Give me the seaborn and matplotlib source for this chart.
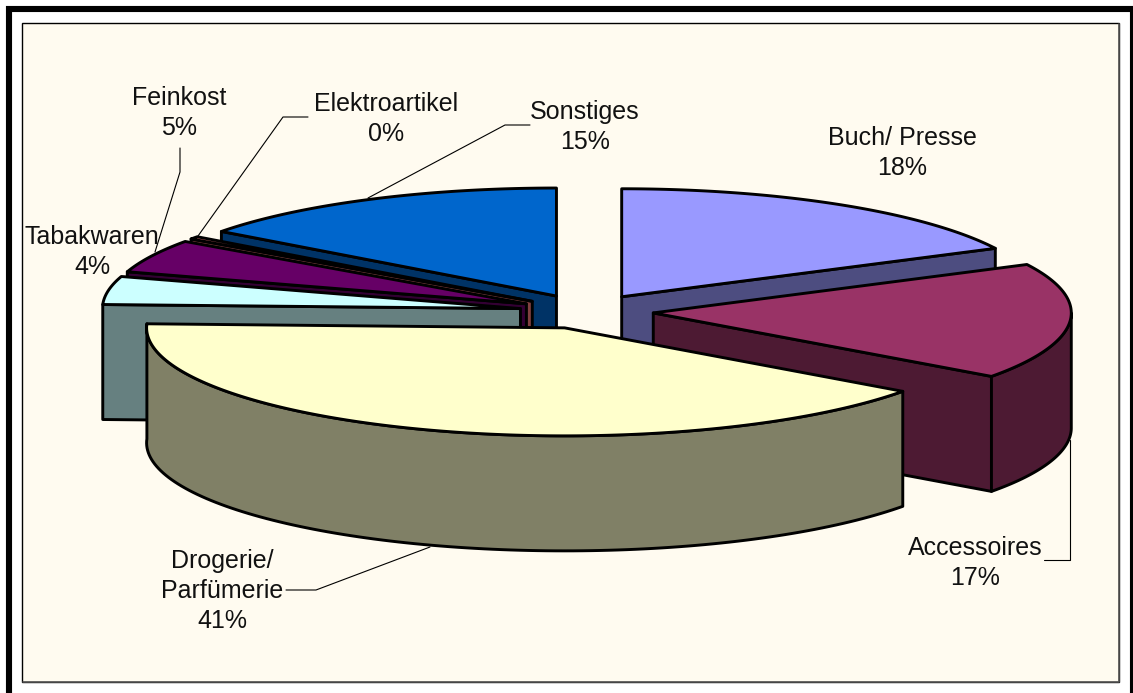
import numpy as np
import seaborn as sns
import matplotlib.pyplot as plt
from matplotlib.patches import Polygon, Rectangle

categories = ["Buch/ Presse", "Accessoires", "Drogerie/\nParfümerie", "Tabakwaren",
              "Feinkost", "Elektroartikel", "Sonstiges"]
values = [17.6, 17.4, 40.6, 4.2, 5, 0.4, 14.8]
percent_labels = ["18%", "17%", "41%", "4%", "5%", "0%", "15%"]
top_hex = ["#9999FF", "#993366", "#FFFFCC", "#CCFFFF", "#660066", "#FF8080", "#0066CC"]

# where the labels sit, and the leader lines from the pie to them
label_pos = [(902, 153), (975, 563), (222, 591), (92, 252), (179, 113), (386, 119), (585, 127)]
leaders = [None,
           [(1070, 440), (1070, 560), (1044, 560)],
           [(286, 590), (316, 590), (430, 547)],
           None,
           [(180, 148), (180, 172), (155, 252)],
           [(198, 236), (283, 117), (308, 117)],
           [(368, 198), (505, 125), (530, 125)]]

# pie geometry in pixels
cx, cy = 586.5, 311.5
rx, ry = 418, 108
depth = 115
explode = 67
# back slices first so the front ones cover them
draw_order = [0, 6, 5, 4, 3, 1, 2]

sns.set_theme(style="white")
plt.rcParams["font.family"] = ["Liberation Sans", "DejaVu Sans"]

top_colors = sns.color_palette(top_hex)
side_colors = [tuple(c * 0.5 for c in col) for col in top_colors]

fig, ax = plt.subplots(figsize=(11.33, 6.93), dpi=100)
ax.set_position([0, 0, 1, 1])
ax.set_xlim(0, 1133)
ax.set_ylim(693, 0)
ax.axis("off")
fig.patch.set_facecolor("white")

# frame and plot area
ax.add_patch(Rectangle((9, 9), 1124, 700, fc="white", ec="black", lw=4.4, zorder=0))
ax.add_patch(Rectangle((22, 23), 1097, 659, fc="#FFFBF0", ec="black", lw=1, zorder=1))
ax.plot([23, 1119, 1119], [682, 682, 24], color="#555555", lw=1.2, zorder=1)

edges = np.cumsum([0] + values) / np.sum(values) * 2 * np.pi


def rim(t, x0, y0):
    return np.column_stack([x0 + rx * np.sin(t), y0 - ry * np.cos(t)])


z = 2
for i in draw_order:
    a, b = edges[i], edges[i + 1]
    mid = (a + b) / 2
    x0 = cx + explode * np.sin(mid)
    y0 = cy - explode * ry / rx * np.cos(mid)
    line = dict(ec="black", lw=2.1, joinstyle="round")

    # cut wall, only the one turned towards us
    visible = []
    if b < np.pi:
        visible.append(b)
    if a > np.pi:
        visible.append(a)
    for t in visible:
        p = rim(np.array([t]), x0, y0)[0]
        wall = [(x0, y0), tuple(p), (p[0], p[1] + depth), (x0, y0 + depth)]
        ax.add_patch(Polygon(wall, closed=True, fc=side_colors[i], zorder=z, **line))

    # outer rim, only the part facing us
    lo, hi = max(a, np.pi / 2), min(b, 3 * np.pi / 2)
    if a < 3 * np.pi / 2 < b:
        hi = b
    if hi > lo:
        t = np.linspace(lo, hi, 120)
        upper = rim(t, x0, y0)
        lower = upper[::-1] + [0, depth]
        ax.add_patch(Polygon(np.vstack([upper, lower]), closed=True,
                             fc=side_colors[i], zorder=z, **line))

    # top face
    t = np.linspace(a, b, 160)
    ax.add_patch(Polygon(np.vstack([[x0, y0], rim(t, x0, y0)]), closed=True,
                         fc=top_colors[i], zorder=z, **line))
    z += 1

for pts in leaders:
    if pts is not None:
        xs, ys = zip(*pts)
        ax.plot(xs, ys, color="black", lw=0.8, zorder=20)

for name, pct, pos in zip(categories, percent_labels, label_pos):
    ax.text(pos[0], pos[1], name + "\n" + pct, ha="center", va="center", fontsize=18,
            color="#111111", linespacing=1.32, zorder=21)

fig.savefig("out.png", dpi=100)
